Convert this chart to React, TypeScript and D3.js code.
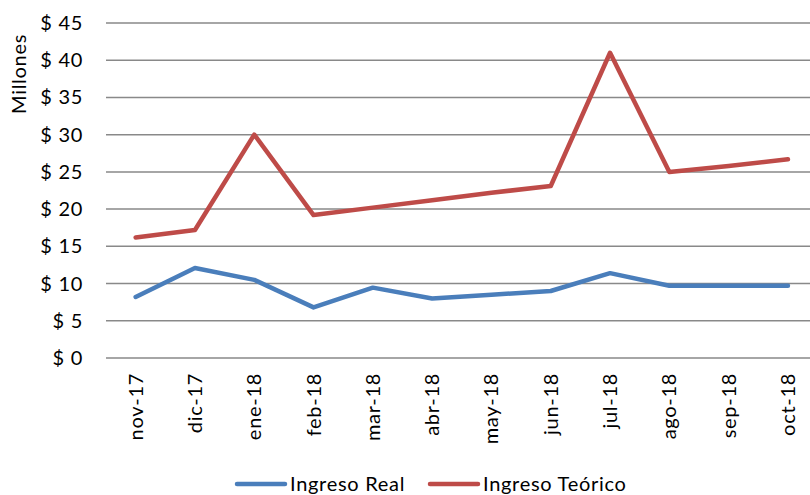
import React from "react";
import * as d3 from "d3";

const categories = ["nov-17","dic-17","ene-18","feb-18","mar-18","abr-18","may-18","jun-18","jul-18","ago-18","sep-18","oct-18"];
const ingresoReal = [8.2, 12.1, 10.5, 6.8, 9.45, 8.0, 8.5, 9.0, 11.4, 9.7, 9.7, 9.7];
const ingresoTeorico = [16.2, 17.2, 30.0, 19.2, 20.2, 21.2, 22.2, 23.1, 41.0, 25.0, 25.8, 26.7];
const yTicks = [0, 5, 10, 15, 20, 25, 30, 35, 40, 45];
const seriesNames = ["Ingreso Real", "Ingreso Teórico"];

const W = 810, H = 495;
const font = "Lato, 'Open Sans', sans-serif";
const fs = 20;
const ls = 0.7;

export default function App() {
  const x = d3.scaleBand<string>().domain(categories).range([106, 106 + 12 * 59.3]);
  const y = d3.scaleLinear().domain([0, 45]).range([358, 23]);
  const line = d3.line<number>()
    .x((_, i) => (x(categories[i]) as number) + x.bandwidth() / 2)
    .y((d) => y(d));
  const series = [
    { name: seriesNames[0], values: ingresoReal, color: "#4a7ebb" },
    { name: seriesNames[1], values: ingresoTeorico, color: "#be4b48" },
  ];
  const legendX = [237, 430];
  return (
    <svg width={W} height={H} style={{ position: "absolute", left: 0, top: 0, background: "#fff" }}>
      {yTicks.map((t) => (
        <g key={t}>
          <line x1={106} x2={W} y1={y(t)} y2={y(t)} stroke="#898989" strokeWidth={1.5} />
          <text x={83} y={y(t)} dy="0.35em" textAnchor="end" fontFamily={font} fontSize={fs} letterSpacing={ls} fill="#000">
            {"$ " + t}
          </text>
        </g>
      ))}
      <text transform={`translate(26,74) rotate(-90)`} textAnchor="middle" fontFamily={font} fontSize={fs} letterSpacing={ls} fill="#000">
        Millones
      </text>
      {categories.map((c) => (
        <text key={c}
          transform={`translate(${(x(c) as number) + x.bandwidth() / 2 + 7},373) rotate(-90)`}
          textAnchor="end" fontFamily={font} fontSize={fs} letterSpacing={ls} fill="#000">
          {c}
        </text>
      ))}
      {series.map((s) => (
        <path key={s.name} d={line(s.values) || ""} fill="none" stroke={s.color} strokeWidth={4.5}
          strokeLinejoin="round" strokeLinecap="round" />
      ))}
      {series.map((s, i) => (
        <g key={s.name}>
          <line x1={legendX[i]} x2={legendX[i] + 48} y1={484} y2={484} stroke={s.color} strokeWidth={4.5} strokeLinecap="round" />
          <text x={legendX[i] + 53} y={484} dy="0.35em" fontFamily={font} fontSize={fs} letterSpacing={ls} fill="#000">{s.name}</text>
        </g>
      ))}
    </svg>
  );
}
